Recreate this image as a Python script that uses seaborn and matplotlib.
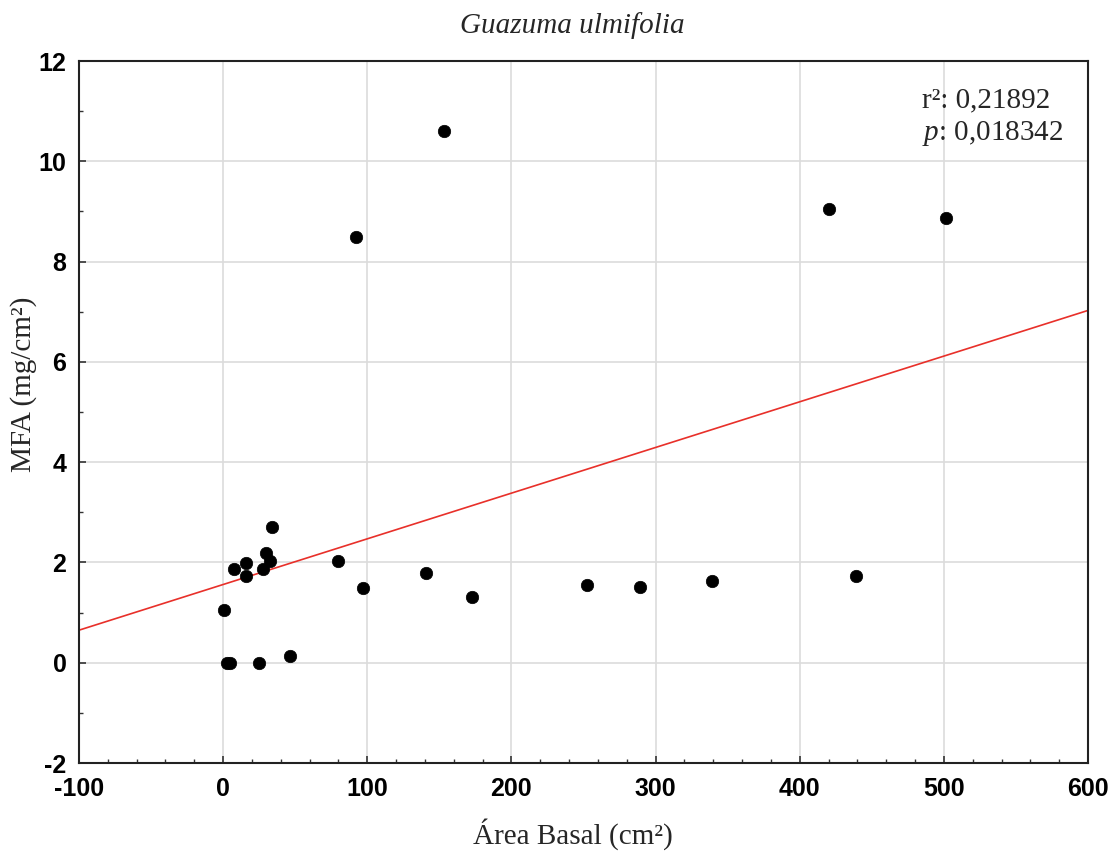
import matplotlib
matplotlib.use("Agg")
import matplotlib.pyplot as plt
import seaborn as sns
import pandas as pd
import numpy as np
from matplotlib.ticker import AutoMinorLocator

area_basal = [0.7, 2.5, 5.0, 7.2, 15.7, 15.7, 25.0, 27.5, 29.8, 32.6, 33.8, 46.5,
              80.0, 92.3, 97.0, 140.5, 153.0, 172.7, 252.5, 289.3, 339.3, 420.4, 439.0, 501.6]
mfa = [1.06, 0.0, 0.0, 1.87, 1.98, 1.73, 0.0, 1.86, 2.18, 2.03, 2.71, 0.13,
       2.03, 8.49, 1.50, 1.79, 10.6, 1.31, 1.55, 1.51, 1.63, 9.05, 1.73, 8.87]
fit_intercept = 1.56
fit_slope = 0.00911
x_ticks = [-100, 0, 100, 200, 300, 400, 500, 600]
y_ticks = [-2, 0, 2, 4, 6, 8, 10, 12]

df = pd.DataFrame({"x": area_basal, "y": mfa})

sns.set_style("white")
plt.rcParams["axes.unicode_minus"] = False
plt.rcParams["mathtext.fontset"] = "custom"
plt.rcParams["mathtext.it"] = "Liberation Serif:italic"
plt.rcParams["mathtext.rm"] = "Liberation Serif"

fig = plt.figure(figsize=(11.14, 8.58), dpi=100)
ax = fig.add_axes([0.0709, 0.1107, 0.9058, 0.8182])

ax.grid(True, color="#dcdcdc", linewidth=1.2)
ax.set_axisbelow(True)

xl = np.array([-100, 600])
ax.plot(xl, fit_intercept + fit_slope * xl, color="#e8302a", linewidth=1.2, zorder=2)

sns.scatterplot(data=df, x="x", y="y", ax=ax, color="black", s=80,
                edgecolor="black", linewidth=0.5, zorder=3)

ax.set_xlim(-100, 600)
ax.set_ylim(-2, 12)
ax.set_xticks(x_ticks)
ax.set_yticks(y_ticks)
ax.set_xticklabels([str(v) for v in x_ticks])
ax.set_yticklabels([str(v) for v in y_ticks])
ax.xaxis.set_minor_locator(AutoMinorLocator(5))
ax.yaxis.set_minor_locator(AutoMinorLocator(2))
ax.tick_params(which="both", direction="in", color="#333333")
ax.tick_params(which="major", length=5, width=1.2)
ax.tick_params(which="minor", length=3, width=1)
ax.tick_params(axis="both", which="both", bottom=True, left=True, top=False, right=False)
for lab in ax.get_xticklabels() + ax.get_yticklabels():
    lab.set_fontfamily("Liberation Sans")
    lab.set_fontweight("bold")
    lab.set_fontsize(18)
    lab.set_color("black")
ax.tick_params(axis="x", pad=10)
ax.tick_params(axis="y", pad=9)

for sp in ax.spines.values():
    sp.set_visible(True)
    sp.set_color("#222222")
    sp.set_linewidth(1.5)

serif = ["Liberation Serif", "DejaVu Serif"]
ax.set_xlabel("Área Basal (cm²)", fontfamily=serif, fontsize=21)
ax.set_ylabel("MFA (mg/cm²)", fontfamily=serif, fontsize=21)
ax.xaxis.set_label_coords(0.489, -0.079)
ax.yaxis.set_label_coords(-0.042, 0.54)
fig.text(0.514, 0.970, "Guazuma ulmifolia", ha="center", va="center",
         fontfamily=serif, fontstyle="italic", fontsize=21)

ax.text(0.835, 0.944, "r²: 0,21892", transform=ax.transAxes, fontfamily=serif,
        fontsize=21, ha="left", va="center")
ax.text(0.835, 0.897, "$p$: 0,018342", transform=ax.transAxes, fontfamily=serif,
        fontsize=21, ha="left", va="center")

fig.savefig("out.png", dpi=100, facecolor="white")
